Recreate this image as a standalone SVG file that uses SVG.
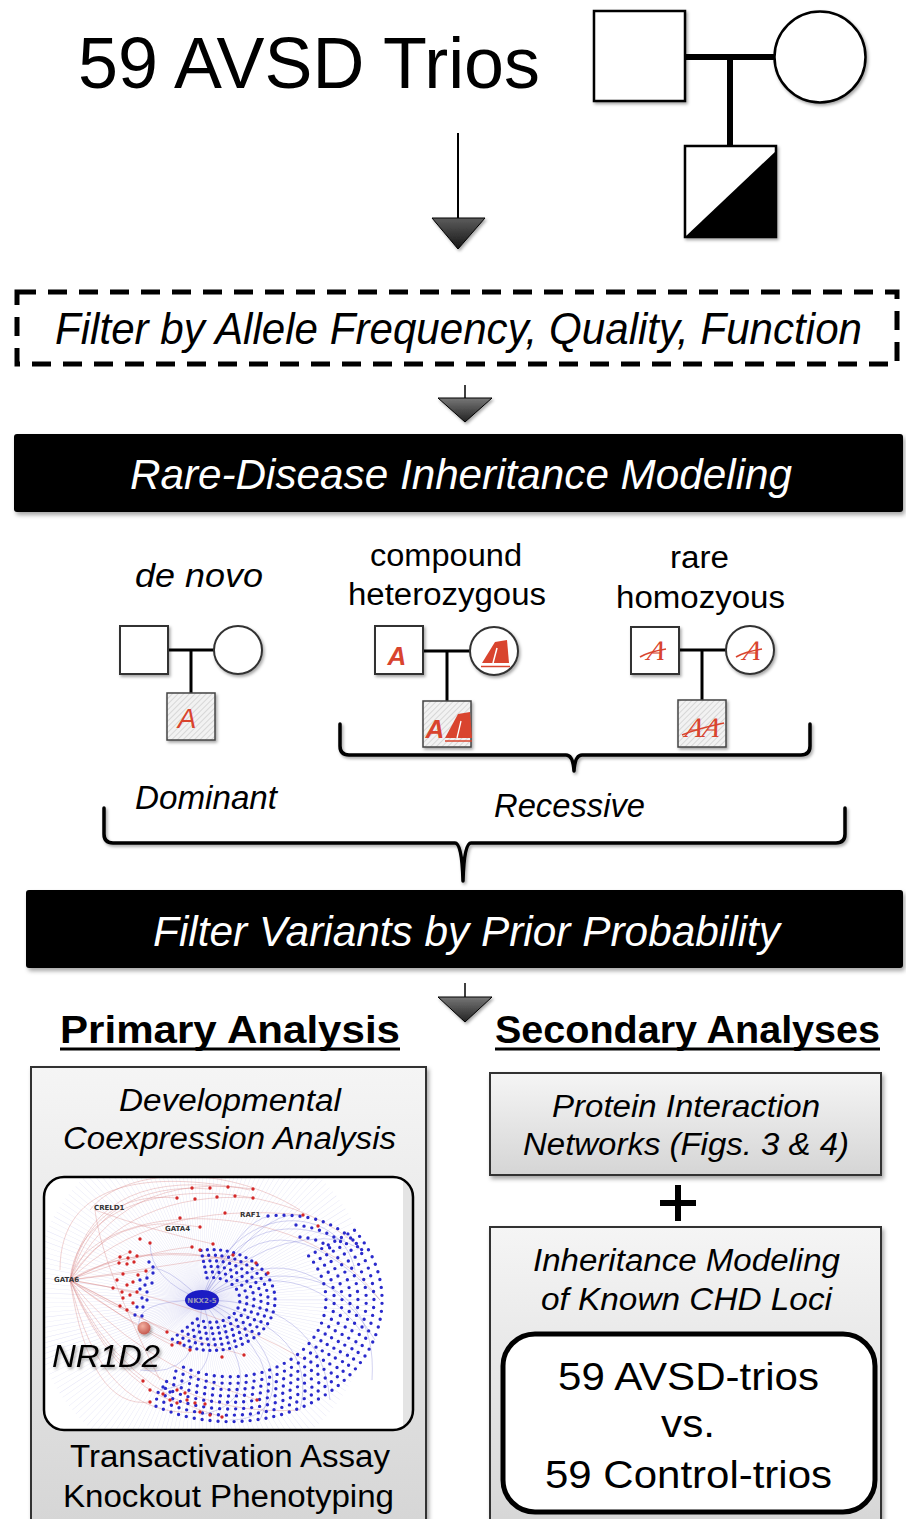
<svg xmlns="http://www.w3.org/2000/svg" width="906" height="1519" viewBox="0 0 906 1519">
<defs>
  <style>
    .t{font-family:"Liberation Sans",Arial,sans-serif;fill:#000}
    .i{font-style:italic}
    .w{fill:#fff}
    .b{font-weight:bold}
    .ped{fill:#fff;stroke:#333;stroke-width:2}
    .pedTop{fill:#fff;stroke:#000;stroke-width:2.5}
    .link{stroke:#000;stroke-width:3;fill:none}
    .linkTop{stroke:#000;stroke-width:6;fill:none}
    .brace{fill:none;stroke:#000;stroke-width:3.5;stroke-linejoin:round;stroke-linecap:round}
    .box{stroke:#333;stroke-width:2;fill:url(#gray)}
    .red{fill:#d9442e}
    .redln{stroke:#d9442e;fill:none}
    .bd{fill:none;stroke:#2a2acc;stroke-width:3.4;stroke-linecap:round;stroke-dasharray:0 6.6}
    .bdo{fill:none;stroke:#2a2acc;stroke-width:3.4;stroke-linecap:round;stroke-dasharray:0 8}
    .dotr{fill:none;stroke:#d42828;stroke-width:3.4;stroke-linecap:round}
    .dotb{fill:none;stroke:#2a2acc;stroke-width:3.4;stroke-linecap:round}
    .re{fill:none;stroke:#d88080;stroke-width:0.7;opacity:.5}
    .be{fill:none;stroke:#8282d8;stroke-width:0.7;opacity:.5}
    .lbl{font-family:"DejaVu Sans",sans-serif;font-weight:bold;font-size:7px;fill:#333}
  </style>
  <filter id="sh" x="-10%" y="-10%" width="130%" height="130%">
    <feDropShadow dx="2" dy="3" stdDeviation="2" flood-color="#000" flood-opacity=".35"/>
  </filter>
  <filter id="shs" x="-20%" y="-20%" width="150%" height="150%">
    <feDropShadow dx="1.5" dy="2" stdDeviation="1.5" flood-color="#000" flood-opacity=".35"/>
  </filter>
  <pattern id="hatch" width="4" height="4" patternUnits="userSpaceOnUse" patternTransform="rotate(45)">
    <rect width="4" height="4" fill="#f2f2f2"/>
    <line x1="0" y1="0" x2="0" y2="4" stroke="#c6c6c6" stroke-width="1.2"/>
  </pattern>
  <linearGradient id="gray" x1="0" y1="0" x2="0" y2="1">
    <stop offset="0" stop-color="#f5f5f5"/>
    <stop offset="1" stop-color="#d5d5d5"/>
  </linearGradient>
  <linearGradient id="tri" x1="0" y1="0" x2="0" y2="1">
    <stop offset="0" stop-color="#5c5c5c"/>
    <stop offset="1" stop-color="#151515"/>
  </linearGradient>
  <linearGradient id="triL" x1="0" y1="0" x2="0" y2="1">
    <stop offset="0" stop-color="#777"/>
    <stop offset="1" stop-color="#222"/>
  </linearGradient>
  <radialGradient id="ball" cx=".4" cy=".35" r=".7">
    <stop offset="0" stop-color="#f4b0a0"/>
    <stop offset="1" stop-color="#c0544a"/>
  </radialGradient>
  <clipPath id="netClip">
    <rect x="44" y="1177" width="369" height="253" rx="20"/>
  </clipPath>
</defs>

<rect width="906" height="1519" fill="#fff"/>

<!-- Title -->
<g id="title">
  <text class="t" x="78" y="88" font-size="72" textLength="462" lengthAdjust="spacingAndGlyphs">59 AVSD Trios</text>
</g>

<!-- Trio pedigree symbol -->
<g id="trio-pedigree">
  <line class="linkTop" x1="685" y1="57" x2="775" y2="57"/>
  <line class="linkTop" x1="730" y1="57" x2="730" y2="147"/>
  <rect class="pedTop" x="594" y="11" width="91" height="90" filter="url(#shs)"/>
  <circle class="pedTop" cx="820" cy="57" r="45.5" filter="url(#shs)"/>
  <rect class="pedTop" x="685" y="146" width="91" height="91" filter="url(#shs)"/>
  <polygon points="685,237 776,151 776,237" fill="#000"/>
</g>

<!-- Filter step -->
<g id="filter-allele">
  <rect x="17" y="292" width="880" height="72" fill="none" stroke="#000" stroke-width="5" stroke-dasharray="19 12"/>
  <text class="t i" x="55" y="344" font-size="44" textLength="807" lengthAdjust="spacingAndGlyphs">Filter by Allele Frequency, Quality, Function</text>
</g>

<g id="inheritance-modeling">
  <rect x="14" y="434" width="889" height="78" rx="3" fill="#000" filter="url(#sh)"/>
  <text class="t i w" x="130" y="489" font-size="43" textLength="662" lengthAdjust="spacingAndGlyphs">Rare-Disease Inheritance Modeling</text>
</g>

<!-- de novo model -->
<g id="model-denovo">
  <text class="t i" x="135" y="587" font-size="34" textLength="128" lengthAdjust="spacingAndGlyphs">de novo</text>
  <line class="link" x1="168" y1="650" x2="214" y2="650"/>
  <line class="link" x1="191" y1="650" x2="191" y2="693"/>
  <rect class="ped" x="120" y="626" width="48" height="48" filter="url(#shs)"/>
  <circle class="ped" cx="238" cy="650" r="24" filter="url(#shs)"/>
  <rect x="167" y="693" width="48" height="47" fill="url(#hatch)" stroke="#444" stroke-width="1.5" filter="url(#shs)"/>
  <text class="t i red" x="187" y="728" font-size="28" text-anchor="middle">A</text>
</g>

<!-- compound heterozygous model -->
<g id="model-compound">
  <text class="t" x="370" y="566" font-size="31" textLength="152" lengthAdjust="spacingAndGlyphs">compound</text>
  <text class="t" x="348" y="605" font-size="31" textLength="198" lengthAdjust="spacingAndGlyphs">heterozygous</text>
  <line class="link" x1="423" y1="651" x2="470" y2="651"/>
  <line class="link" x1="447" y1="651" x2="447" y2="701"/>
  <rect class="ped" x="375" y="626" width="48" height="48" filter="url(#shs)"/>
  <circle class="ped" cx="494" cy="651" r="24" filter="url(#shs)"/>
  <rect x="423" y="701" width="48" height="46" fill="url(#hatch)" stroke="#444" stroke-width="1.5" filter="url(#shs)"/>
  <text class="t i b red" x="397" y="665" font-size="26" text-anchor="middle">A</text>
  <polygon class="red" points="482,663 495,642 507,640 509,663"/>
  <line x1="497" y1="648" x2="493" y2="663" stroke="#fff" stroke-width="1.5"/>
  <line class="redln" x1="481" y1="666.5" x2="510" y2="666.5" stroke-width="1.5"/>
  <text class="t i b red" x="435" y="738" font-size="26" text-anchor="middle">A</text>
  <polygon class="red" points="445,738 458,714 470,712 472,738"/>
  <line x1="461" y1="721" x2="457" y2="738" stroke="#fff" stroke-width="1.3"/>
  <line class="redln" x1="445" y1="741" x2="472" y2="741" stroke-width="1.5"/>
</g>

<!-- rare homozygous model -->
<g id="model-homozygous">
  <text class="t" x="670" y="568" font-size="31" textLength="59" lengthAdjust="spacingAndGlyphs">rare</text>
  <text class="t" x="616" y="608" font-size="31" textLength="169" lengthAdjust="spacingAndGlyphs">homozyous</text>
  <line class="link" x1="679" y1="650" x2="726" y2="650"/>
  <line class="link" x1="702" y1="650" x2="702" y2="700"/>
  <rect class="ped" x="631" y="627" width="48" height="47" filter="url(#shs)"/>
  <circle class="ped" cx="750" cy="650" r="24" filter="url(#shs)"/>
  <rect x="678" y="700" width="48" height="47" fill="url(#hatch)" stroke="#444" stroke-width="1.5" filter="url(#shs)"/>
  <text x="655" y="660" font-family="Liberation Serif,serif" font-style="italic" font-size="28" class="red" text-anchor="middle" transform="skewX(-12) translate(140 0)">A</text>
  <path class="redln" d="M640 657 q8 -5 26 -8" stroke-width="1.6"/>
  <text x="751" y="660" font-family="Liberation Serif,serif" font-style="italic" font-size="28" class="red" text-anchor="middle" transform="skewX(-12) translate(140 0)">A</text>
  <path class="redln" d="M736 657 q8 -5 26 -8" stroke-width="1.6"/>
  <text x="703" y="737" font-family="Liberation Serif,serif" font-style="italic" font-size="28" class="red" text-anchor="middle" transform="skewX(-12) translate(155 0)">AA</text>
  <path class="redln" d="M682 735 q14 -6 42 -12" stroke-width="1.6"/>
</g>

<g id="labels-mode">
  <text class="t i" x="135" y="809" font-size="33" textLength="142" lengthAdjust="spacingAndGlyphs">Dominant</text>
  <text class="t i" x="494" y="817" font-size="33" textLength="151" lengthAdjust="spacingAndGlyphs">Recessive</text>
</g>

<g id="filter-prior">
  <rect x="26" y="890" width="877" height="78" rx="3" fill="#000" filter="url(#sh)"/>
  <text class="t i w" x="153" y="946" font-size="43" textLength="627" lengthAdjust="spacingAndGlyphs">Filter Variants by Prior Probability</text>
</g>

<!-- Connectors: arrows and braces -->
<g id="connectors">
  <line x1="458" y1="133" x2="458" y2="219" stroke="#000" stroke-width="2"/>
  <polygon points="432,218 485,218 458,249" fill="url(#tri)" stroke="#000" stroke-width="1" filter="url(#shs)"/>
  <line x1="465" y1="385" x2="465" y2="399" stroke="#000" stroke-width="1.5"/>
  <polygon points="438,398 492,398 465,422" fill="url(#triL)" stroke="#000" stroke-width="1" filter="url(#shs)"/>
  <line x1="465" y1="983" x2="465" y2="997" stroke="#000" stroke-width="1.5"/>
  <polygon points="438,997 492,997 465,1022" fill="url(#triL)" stroke="#000" stroke-width="1" filter="url(#shs)"/>
  <path class="brace" filter="url(#shs)" d="M340 724 L340 746 Q340 755 349 755 L566 755 Q573 755 574 771 Q575 755 582 755 L801 755 Q810 755 810 746 L810 724"/>
  <path class="brace" filter="url(#shs)" d="M104 808 L104 834 Q104 843 113 843 L455 843 Q462 843 463 881 Q464 843 471 843 L836 843 Q845 843 845 834 L845 808"/>
</g>

<!-- Headings -->
<g id="heading-primary">
  <text class="t b" x="60" y="1043" font-size="38" textLength="340" lengthAdjust="spacingAndGlyphs">Primary Analysis</text>
  <line x1="60" y1="1049" x2="400" y2="1049" stroke="#000" stroke-width="3"/>
</g>
<g id="heading-secondary">
  <text class="t b" x="495" y="1043" font-size="38" textLength="385" lengthAdjust="spacingAndGlyphs">Secondary Analyses</text>
  <line x1="495" y1="1049" x2="880" y2="1049" stroke="#000" stroke-width="3"/>
</g>

<!-- Primary analysis panel -->
<g id="primary-panel">
  <rect class="box" x="31" y="1067" width="395" height="470" filter="url(#sh)"/>
  <text class="t i" x="119" y="1111" font-size="31" textLength="222" lengthAdjust="spacingAndGlyphs">Developmental</text>
  <text class="t i" x="63" y="1149" font-size="31" textLength="333" lengthAdjust="spacingAndGlyphs">Coexpression Analysis</text>
  <text class="t" x="70" y="1467" font-size="31" textLength="320" lengthAdjust="spacingAndGlyphs">Transactivation Assay</text>
  <text class="t" x="63" y="1507" font-size="31" textLength="331" lengthAdjust="spacingAndGlyphs">Knockout Phenotyping</text>
</g>

<!-- Coexpression network -->
<g id="network">
  <rect x="44" y="1177" width="369" height="253" rx="20" fill="#fff"/>
  <g clip-path="url(#netClip)">
    <rect x="403" y="1177" width="10" height="253" fill="#e4e4e4"/>
    <!-- NKX2-5 spokes -->
    <circle cx="202" cy="1300" r="85" fill="none" stroke="#7a7ad6" stroke-width="170" stroke-dasharray="0.35 2.3" opacity=".22"/>
    <!-- red edges from GATA6 / CRELD1 -->
    <path class="re" d="M70 1280 Q90 1190 177 1198 M70 1280 Q100 1180 210 1189 M70 1280 Q120 1170 253 1189 M70 1280 Q130 1190 253 1198 M70 1280 Q110 1210 200 1227 M70 1280 Q150 1200 303 1215 M70 1280 Q160 1230 268 1273 M70 1280 Q130 1240 255 1263 M70 1280 Q100 1350 143 1381 M70 1280 Q110 1380 177 1403 M70 1280 Q120 1390 222 1417 M70 1280 Q130 1360 257 1400 M70 1280 Q150 1330 244 1355 M70 1280 Q120 1320 190 1350 M70 1280 L130 1252 M70 1280 L146 1271 M70 1280 L137 1292 M70 1280 L127 1310 M70 1280 Q110 1300 167 1332 M70 1280 Q140 1270 233 1255 M70 1280 Q90 1170 228 1187 M60 1270 C60 1180 150 1170 250 1190 M70 1280 C80 1170 280 1170 362 1250 M70 1280 C90 1200 300 1190 380 1300 M70 1280 Q100 1420 200 1412 M70 1280 Q90 1410 150 1402 M70 1280 Q150 1250 192 1247 M70 1280 Q140 1330 172 1345 M90 1210 C120 1170 220 1160 300 1210 M95 1210 C100 1250 120 1300 160 1380 M95 1210 Q150 1230 213 1244 M70 1280 Q200 1300 305 1360 M70 1280 Q150 1420 300 1410"/>
    <!-- blue edges from NKX2-5 -->
    <path class="be" d="M202 1300 Q250 1190 362 1250 M202 1300 Q270 1180 380 1300 M202 1300 Q300 1220 375 1340 M202 1300 Q320 1300 330 1400 M202 1300 Q290 1360 260 1420 M202 1300 Q230 1380 160 1390 M202 1300 Q260 1210 300 1215 M202 1300 Q150 1250 145 1280 M202 1300 Q130 1300 140 1330 M202 1300 Q260 1230 345 1240 M202 1300 Q300 1250 360 1330 M202 1300 Q320 1330 300 1410 M202 1300 Q280 1400 200 1415 M202 1300 Q240 1220 270 1216 M202 1300 Q150 1280 150 1243 M202 1300 Q200 1380 140 1370 M202 1300 C260 1260 380 1260 372 1380 M202 1300 C230 1200 340 1200 355 1270 M202 1300 C280 1330 300 1420 230 1420"/>
    <!-- inner blue crescent around NKX2-5 -->
    <path class="bd" d="M207.1 1277.9 A28 22.4 0 1 1 194 1317.2 M205.9 1272.4 A35 28 0 1 1 189.5 1321.4 M204.7 1266.9 A42 33.6 0 1 1 185 1325.7 M203.5 1261.4 A49 39.2 0 1 1 180.5 1330 M202.3 1255.9 A56 44.8 0 1 1 176 1334.3 M201 1250.4 A63 50.4 0 1 1 171.5 1338.6"/>
    <!-- outer blue rings -->
    <path class="bdo" d="M308.6 1255.9 A96 76.8 0 0 1 179.1 1365.1 M315.2 1252.2 A104 83.2 0 0 1 174.9 1370.6 M321.7 1248.6 A112 89.6 0 0 1 170.6 1376 M328.3 1244.9 A120 96 0 0 1 166.4 1381.4 M334.8 1241.2 A128 102.4 0 0 1 162.2 1386.8 M341.4 1237.5 A136 108.8 0 0 1 157.9 1392.3 M347.9 1233.9 A144 115.2 0 0 1 153.7 1397.7 M354.5 1230.2 A152 121.6 0 0 1 149.4 1403.1 M268 1216 Q330 1210 362 1250 M296 1225 Q325 1228 345 1245 M300 1237 Q318 1238 330 1248"/>
    <!-- individual red nodes -->
    <path class="dotr" d="M192 1188h0M210 1188h0M228 1187h0M253 1189h0M177 1198h0M195 1199h0M217 1197h0M235 1196h0M253 1198h0M180 1218h0M200 1227h0M225 1213h0M303 1215h0M192 1247h0M200 1250h0M213 1244h0M233 1255h0M256 1263h0M268 1273h0M140 1239h0M150 1243h0M130 1252h0M120 1257h0M128 1258h0M137 1256h0M119 1263h0M127 1264h0M134 1262h0M117 1280h0M123 1274h0M113 1288h0M122 1292h0M127 1285h0M133 1282h0M138 1275h0M146 1271h0M123 1298h0M130 1295h0M137 1292h0M120 1306h0M127 1310h0M133 1303h0M167 1332h0M172 1345h0M180 1343h0M190 1350h0M222 1357h0M244 1355h0M143 1381h0M150 1390h0M163 1394h0M170 1400h0M177 1403h0M187 1400h0M195 1403h0M200 1412h0M210 1415h0M222 1417h0M185 1393h0M177 1390h0M205 1404h0M257 1400h0M150 1402h0M318 1226h0"/>
    <!-- individual blue nodes -->
    <path class="dotb" d="M140 1280h0M147 1278h0M153 1273h0M145 1285h0M152 1283h0M140 1289h0M147 1292h0M142 1298h0M147 1300h0M137 1307h0M143 1307h0M135 1315h0M142 1316h0M153 1267h0M149 1262h0M163 1387h0M170 1392h0"/>
    <!-- hub nodes and labels -->
    <ellipse cx="202" cy="1300" rx="17" ry="10" fill="#1c1cc4"/>
    <text class="lbl" x="202" y="1302.5" text-anchor="middle" style="fill:#9a9ab8">NKX2-5</text>
    <text class="lbl" x="54" y="1282">GATA6</text>
    <text class="lbl" x="94" y="1210">CRELD1</text>
    <text class="lbl" x="165" y="1231">GATA4</text>
    <text class="lbl" x="240" y="1217">RAF1</text>
    <circle cx="144" cy="1328" r="6.5" fill="url(#ball)" filter="url(#shs)"/>
    <text class="t i" x="52" y="1367" font-size="32" textLength="108" lengthAdjust="spacingAndGlyphs" filter="url(#shs)">NR1D2</text>
  </g>
  <rect x="44" y="1177" width="369" height="253" rx="20" fill="none" stroke="#000" stroke-width="2.5"/>
</g>

<!-- Secondary analyses -->
<g id="protein-networks">
  <rect class="box" x="490" y="1073" width="391" height="102" filter="url(#sh)"/>
  <text class="t i" x="552" y="1117" font-size="31" textLength="268" lengthAdjust="spacingAndGlyphs">Protein Interaction</text>
  <text class="t i" x="523" y="1155" font-size="31" textLength="326" lengthAdjust="spacingAndGlyphs">Networks (Figs. 3 &amp; 4)</text>
</g>
<g id="plus">
  <path d="M660 1203 H696 M678 1185 V1221" stroke="#000" stroke-width="6" fill="none"/>
</g>
<g id="known-loci">
  <rect class="box" x="490" y="1227" width="391" height="310" filter="url(#sh)"/>
  <text class="t i" x="533" y="1271" font-size="31" textLength="307" lengthAdjust="spacingAndGlyphs">Inheritance Modeling</text>
  <text class="t i" x="541" y="1310" font-size="31" textLength="291" lengthAdjust="spacingAndGlyphs">of Known CHD Loci</text>
  <rect x="503" y="1334" width="372" height="178" rx="32" fill="#fff" stroke="#000" stroke-width="5"/>
  <text class="t" x="558" y="1390" font-size="38" textLength="261" lengthAdjust="spacingAndGlyphs">59 AVSD-trios</text>
  <text class="t" x="661" y="1437" font-size="38" textLength="54" lengthAdjust="spacingAndGlyphs">vs.</text>
  <text class="t" x="545" y="1488" font-size="38" textLength="287" lengthAdjust="spacingAndGlyphs">59 Control-trios</text>
</g>
</svg>
